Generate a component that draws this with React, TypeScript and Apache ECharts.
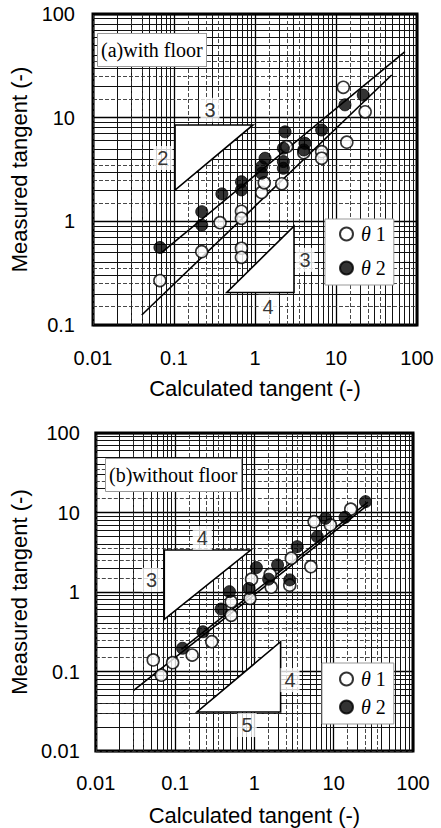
import React, { useEffect, useRef } from "react";
import * as echarts from "echarts";

// ---------- data (a) with floor ----------
const A_THETA1: [number, number][] = [
  [0.067, 0.268], [0.22, 0.51], [0.37, 0.97], [0.68, 1.25], [0.68, 1.07],
  [0.68, 0.55], [0.68, 0.45], [1.21, 1.9], [1.3, 2.35], [2.14, 2.3],
  [2.46, 5.25], [4.0, 4.6], [6.65, 4.7], [6.65, 4.06], [12.3, 19.6],
  [13.6, 5.8], [22.9, 11.4],
];
const A_THETA2: [number, number][] = [
  [0.067, 0.56], [0.22, 1.24], [0.22, 0.92], [0.39, 1.84], [0.68, 2.41],
  [0.68, 2.01], [1.21, 3.37], [1.21, 2.91], [1.33, 4.06], [2.24, 5.07],
  [2.24, 3.77], [2.24, 3.25], [2.35, 7.3], [4.0, 4.88], [4.14, 5.66],
  [6.65, 7.6], [12.9, 13.3], [21.7, 16.5],
];
const A_LINE_UPPER: [number, number][] = [[0.07, 0.5], [71, 43.3]];
const A_LINE_LOWER: [number, number][] = [[0.04, 0.125], [48.7, 25.8]];
const A_TRIANGLES: number[][] = [
  [0.103, 8.5, 0.944, 8.5, 0.103, 2.0],
  [0.448, 0.206, 3.03, 0.206, 3.03, 0.9],
];
const A_TRI_LABELS: [number, number, string][] = [
  [0.278, 11.9, "3"], [0.073, 4.08, "2"], [4.14, 0.425, "3"], [1.45, 0.15, "4"],
];

// ---------- data (b) without floor ----------
const B_THETA1: [number, number][] = [
  [0.053, 0.14], [0.067, 0.09], [0.093, 0.129], [0.164, 0.161], [0.29, 0.237],
  [0.51, 0.51], [0.51, 0.755], [0.88, 0.83], [0.92, 1.45], [1.58, 1.66],
  [1.63, 1.15], [2.79, 1.22], [2.92, 2.66], [5.15, 2.08], [5.66, 7.66],
  [9.08, 6.97], [16.4, 11.0],
];
const B_THETA2: [number, number][] = [
  [0.124, 0.196], [0.224, 0.316], [0.38, 0.61], [0.485, 1.01], [0.855, 1.11],
  [1.06, 2.03], [1.51, 1.45], [1.96, 2.19], [2.79, 1.42], [3.46, 3.72],
  [6.22, 4.97], [7.87, 8.45], [13.9, 8.7], [25.2, 13.7],
];
const B_LINE_1: [number, number][] = [[0.03, 0.058], [26.9, 12.4]];
const B_LINE_2: [number, number][] = [[0.12, 0.19], [27, 13.5]];
const B_TRIANGLES: number[][] = [
  [0.073, 3.37, 0.898, 3.37, 0.073, 0.454],
  [0.189, 0.031, 2.14, 0.031, 2.14, 0.237],
];
const B_TRI_LABELS: [number, number, string][] = [
  [0.22, 4.78, "4"], [0.0503, 1.42, "3"], [2.81, 0.078, "4"], [0.81, 0.0212, "5"],
];

const SERIES_NAMES = ["θ 1", "θ 2"];
const PANEL_TITLES = ["(a)with floor", "(b)without floor"];
const X_TITLE = "Calculated tangent (-)";
const Y_TITLE = "Measured tangent (-)";

// graph-paper rulings (multipliers within each decade)
const MINOR_MULT = [2, 3, 4, 5, 6, 7, 8, 9];
const DASH_MULT = [1.5, 2.5, 3.5];

function rulings(minExp: number, maxExp: number, mults: number[]) {
  const out: number[] = [];
  for (let e = minExp; e < maxExp; e++) for (const m of mults) out.push(+(m * Math.pow(10, e)).toPrecision(4));
  return out;
}

const SANS = "'Liberation Sans', Arial, Helvetica, sans-serif";
const SERIF = "'Liberation Serif', 'Times New Roman', serif";

function gridSeries(gi: number, yMinExp: number) {
  const solid = [
    ...rulings(-2, 2, MINOR_MULT).map((v) => ({ xAxis: v })),
    ...rulings(yMinExp, 2, MINOR_MULT).map((v) => ({ yAxis: v })),
  ];
  const dashed = [
    ...rulings(-2, 2, DASH_MULT).map((v) => ({ xAxis: v })),
    ...rulings(yMinExp, 2, DASH_MULT).map((v) => ({ yAxis: v })),
  ];
  return [
    {
      type: "line", xAxisIndex: gi, yAxisIndex: gi, data: [], z: 1, silent: true,
      markLine: { silent: true, z: 1, symbol: "none", label: { show: false }, animation: false,
        lineStyle: { color: "#111", width: 1, type: "solid" }, data: solid },
    },
    {
      type: "line", xAxisIndex: gi, yAxisIndex: gi, data: [], z: 1, silent: true,
      markLine: { silent: true, z: 1, symbol: "none", label: { show: false }, animation: false,
        lineStyle: { color: "#333", width: 0.9, type: [4, 2] }, data: dashed },
    },
  ];
}

function panelSeries(gi: number, t1: any[], t2: any[], lines: any[][], tris: number[][], labels: any[]) {
  return [
    ...gridSeries(gi, gi === 0 ? -1 : -2),
    {
      type: "custom", xAxisIndex: gi, yAxisIndex: gi, z: 3, silent: true,
      encode: { x: [0, 2, 4], y: [1, 3, 5] },
      data: tris,
      renderItem: (params: any, api: any) => {
        const pts = [0, 1, 2].map((i) => api.coord([api.value(2 * i), api.value(2 * i + 1)]));
        return { type: "polygon", z2: 10, shape: { points: pts }, style: { fill: "#fff", stroke: "#000", lineWidth: 1.6 } };
      },
    },
    ...lines.map((l) => ({
      type: "line", xAxisIndex: gi, yAxisIndex: gi, z: 4, silent: true, showSymbol: false,
      data: l, lineStyle: { color: "#000", width: 1.6 },
    })),
    {
      type: "scatter", xAxisIndex: gi, yAxisIndex: gi, z: 6, silent: true,
      symbolSize: 1, itemStyle: { color: "rgba(0,0,0,0)", borderWidth: 0 },
      data: labels.map((l) => ({ value: [l[0], l[1]], name: l[2] })),
      label: { show: true, position: "inside", formatter: "{b}", fontFamily: SANS, fontSize: 20,
        color: "#000", backgroundColor: "#fff", borderWidth: 0, textBorderWidth: 0, padding: [2, 4] },
    },
    {
      name: SERIES_NAMES[0], type: "scatter", xAxisIndex: gi, yAxisIndex: gi, z: 5,
      symbol: "circle", symbolSize: 12, data: t1,
      itemStyle: { color: "#fff", borderColor: "#000", borderWidth: 1.6 },
    },
    {
      name: SERIES_NAMES[1], type: "scatter", xAxisIndex: gi, yAxisIndex: gi, z: 5,
      symbol: "circle", symbolSize: 12, data: t2,
      itemStyle: { color: "#000", borderColor: "#000", borderWidth: 1 },
    },
  ];
}

function xAxis(gi: number, margin: number, nameGap: number) {
  return {
    type: "log", logBase: 10, gridIndex: gi, min: 0.01, max: 100,
    name: X_TITLE, nameLocation: "middle", nameGap,
    nameTextStyle: { fontFamily: SANS, fontSize: 22, color: "#000" },
    axisLine: { show: false }, axisTick: { show: false },
    axisLabel: { margin, fontFamily: SANS, fontSize: 20, color: "#000",
      formatter: (v: number) => String(+v.toPrecision(3)) },
    splitLine: { show: true, lineStyle: { color: "#000", width: 1.3 } },
  };
}
function yAxis(gi: number, min: number, margin: number, nameGap: number) {
  return {
    type: "log", logBase: 10, gridIndex: gi, min, max: 100,
    name: Y_TITLE, nameLocation: "middle", nameGap,
    nameTextStyle: { fontFamily: SANS, fontSize: 22, color: "#000" },
    axisLine: { show: false }, axisTick: { show: false },
    axisLabel: { margin, fontFamily: SANS, fontSize: 20, color: "#000",
      formatter: (v: number) => String(+v.toPrecision(3)) },
    splitLine: { show: true, lineStyle: { color: "#000", width: 1.3 } },
  };
}

function legend(left: number, top: number, gap: number, pad: number[]) {
  return {
    left, top, orient: "vertical", itemGap: gap, padding: pad, z: 10,
    backgroundColor: "#fff", borderColor: "#999", borderWidth: 1,
    icon: "circle", itemWidth: 13, itemHeight: 13, selectedMode: false,
    data: SERIES_NAMES,
    formatter: (n: string) => "{i|θ}" + n.slice(1),
    textStyle: { fontFamily: SERIF, fontSize: 20, color: "#000", padding: [0, 0, 0, 3],
      rich: { i: { fontFamily: SERIF, fontSize: 20, fontStyle: "italic", color: "#000" } } },
  };
}

function title(text: string, left: number, top: number) {
  return {
    text, left, top, padding: [6, 4, 6, 4], z: 10,
    backgroundColor: "#fff", borderColor: "#999", borderWidth: 1,
    textStyle: { fontFamily: SERIF, fontSize: 20, fontWeight: "normal", color: "#000", lineHeight: 22 },
  };
}

export default function App() {
  const ref = useRef<HTMLDivElement>(null);
  useEffect(() => {
    if (!ref.current) return;
    const chart = echarts.init(ref.current, null, { renderer: "svg" });
    chart.setOption({
      animation: false,
      backgroundColor: "#fff",
      title: [title(PANEL_TITLES[0], 97, 33), title(PANEL_TITLES[1], 105, 458)],
      legend: [legend(325, 219, 14, [5, 8, 7, 14]), legend(322, 663, 8, [6, 8, 7, 17])],
      grid: [
        { left: 93, top: 14, width: 324, height: 311, show: true, borderColor: "#000", borderWidth: 3, backgroundColor: "#fff", z: 0 },
        { left: 88, top: 433, width: 325, height: 318, show: true, borderColor: "#000", borderWidth: 3, backgroundColor: "#fff", z: 0 },
      ],
      xAxis: [xAxis(0, 23, 52), xAxis(1, 22, 53)],
      yAxis: [yAxis(0, 0.1, 18, 61), yAxis(1, 0.01, 16, 56)],
      series: [
        ...panelSeries(0, A_THETA1, A_THETA2, [A_LINE_UPPER, A_LINE_LOWER], A_TRIANGLES, A_TRI_LABELS),
        ...panelSeries(1, B_THETA1, B_THETA2, [B_LINE_1, B_LINE_2], B_TRIANGLES, B_TRI_LABELS),
      ],
    });
    return () => chart.dispose();
  }, []);
  return <div ref={ref} style={{ position: "absolute", left: 0, top: 0, width: 441, height: 828 }} />;
}
